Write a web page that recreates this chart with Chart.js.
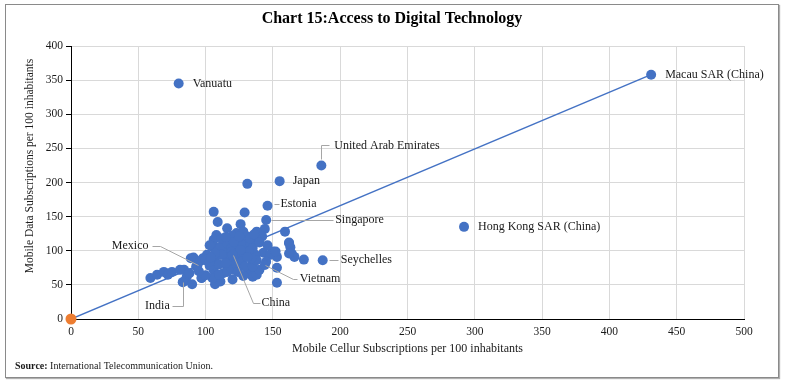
<!DOCTYPE html>
<html>
<head>
<meta charset="utf-8">
<script src="https://cdn.jsdelivr.net/npm/chart.js@4.4.1/dist/chart.umd.min.js"></script>
<style>
  html, body { margin: 0; padding: 0; background: #ffffff; }
  #wrap { position: relative; width: 785px; height: 383px; }
  #frame { position: absolute; left: 5px; top: 4px; width: 774px; height: 374px; border: 1.5px solid #8a8a8a; box-sizing: border-box; pointer-events: none; box-shadow: 1px 1px 1px #b0b0b0; }
  canvas { position: absolute; left: 0; top: 0; }
</style>
</head>
<body>
<div id="wrap">
  <canvas id="c" width="785" height="383"></canvas>
  <div id="frame"></div>
</div>
<script>
// ---- Data ----
// Labelled economies
const labelNames = ["Vanuatu", "Macau SAR (China)", "Hong Kong SAR (China)", "United Arab Emirates", "Japan", "Estonia", "Singapore", "Seychelles", "Vietnam", "China", "Mexico", "India"];
const labelCellular = [80, 431, 292, 186, 155, 146, 145, 187, 144, 120, 94, 83];
const labelMobileData = [345, 358, 135, 225, 202, 166, 145, 86, 79, 94, 79, 54];

// Other economies (unlabelled)
const otherCellular = [131,106,129,109,126,116,144,159,108,106,123,128,131,126,138,142,138,162,163,164,166,173,143,150,153,148,153,153,137,133,136,132,91,59,64,69,72,75,84,86,84,90,97,101,98,96,106,107,111,108,113,116,121,122,126,128,131,127,118,113,108,105,111,116,107,103,103,111,116,119,123,128,133,135,132,127,122,117,112,107,100,103,89,93,88,97,105,110,116,118,123,127,129,135,138,140,135,138,134,131,145,152,162,162,81,112,120,133,136,121,115,125,140,146,110,115,124,128,120,100,95,104,126,119];
const otherMobileData = [198,157,156,142,139,133,132,128,123,116,126,128,121,116,128,121,117,112,105,96,91,87,97,99,91,94,75,53,94,77,72,67,90,60,65,69,65,69,72,62,55,51,60,94,89,85,72,51,55,62,67,77,72,84,86,94,104,109,104,101,104,106,94,89,85,78,108,106,111,104,106,108,111,104,99,96,96,91,94,96,86,84,89,77,67,60,60,65,69,77,79,84,77,62,65,72,77,86,89,91,84,99,111,96,72,118,122,118,124,113,120,121,112,108,80,82,69,63,58,64,70,90,101,98];

// Reference line from origin
const lineCellular = [0, 431];
const lineMobileData = [0, 358];

// Origin marker
const originCellular = [0];
const originMobileData = [0];

// Axis ticks
const xTickMin = 0, xTickMax = 500, xTickStep = 50;
const yTickMin = 0, yTickMax = 400, yTickStep = 50;

const titleText = "Chart 15:Access to Digital Technology";
const xTitle = "Mobile Cellur Subscriptions per 100 inhabitants";
const yTitle = "Mobile Data Subscriptions per 100 inhabitants";
const sourceLabel = "Source:";
const sourceText = " International Telecommunication Union.";

// ---- Build datasets ----
const toPts = (xs, ys) => xs.map((x, i) => ({ x: x, y: ys[i] }));
const allPoints = toPts(otherCellular, otherMobileData).concat(toPts(labelCellular, labelMobileData));

// Label styling (pixel offsets from each labelled point: leader path then text anchor)
const labelStyle = {
  "Vanuatu": { leader: null, tx: 14, ty: 0, align: "left" },
  "Macau SAR (China)": { leader: null, tx: 14, ty: 0, align: "left" },
  "Hong Kong SAR (China)": { leader: null, tx: 14, ty: 0, align: "left" },
  "United Arab Emirates": { leader: [[0, -6], [0, -20], [8, -20]], tx: 13, ty: -20, align: "left" },
  "Japan": { leader: null, tx: 13, ty: 0, align: "left" },
  "Estonia": { leader: [[6, -2], [11, -2]], tx: 13, ty: -2, align: "left" },
  "Singapore": { leader: [[5, 0], [67, 0]], tx: 69, ty: 0, align: "left" },
  "Seychelles": { leader: [[6, 0], [15, 0]], tx: 18, ty: 0, align: "left" },
  "Vietnam": { leader: [[0, 0], [28, 14], [32, 14]], tx: 35, ty: 14, align: "left" },
  "China": { leader: [[0, 0], [20, 48], [27, 48]], tx: 29, ty: 48, align: "left" },
  "Mexico": { leader: [[0, 0], [-38, -19], [-46, -19]], tx: -49, ty: -19, align: "right" },
  "India": { leader: [[0, 0], [0, 24], [-11, 24]], tx: -13, ty: 24, align: "right" }
};

const SERIF = "'Liberation Serif', 'DejaVu Serif', serif";

const decorPlugin = {
  id: 'decor',
  afterDatasetsDraw(chart) {
    const ctx = chart.ctx;
    const xs = chart.scales.x, ys = chart.scales.y;
    ctx.save();
    ctx.strokeStyle = '#a6a6a6';
    ctx.lineWidth = 1;
    labelNames.forEach((n, i) => {
      const st = labelStyle[n];
      if (!st.leader) return;
      const px = xs.getPixelForValue(labelCellular[i]);
      const py = ys.getPixelForValue(labelMobileData[i]);
      ctx.beginPath();
      st.leader.forEach((p, k) => {
        const X = Math.round(px + p[0]) + 0.5, Y = Math.round(py + p[1]) + 0.5;
        if (k === 0) ctx.moveTo(X, Y); else ctx.lineTo(X, Y);
      });
      ctx.stroke();
    });
    ctx.fillStyle = '#1a1a1a';
    ctx.font = "12px " + SERIF;
    ctx.textBaseline = 'middle';
    labelNames.forEach((n, i) => {
      const st = labelStyle[n];
      const px = xs.getPixelForValue(labelCellular[i]);
      const py = ys.getPixelForValue(labelMobileData[i]);
      ctx.textAlign = st.align;
      ctx.fillText(n, px + st.tx, py + st.ty);
    });
    ctx.restore();
  },
  afterDraw(chart) {
    const ctx = chart.ctx;
    const a = chart.chartArea;
    ctx.save();
    ctx.fillStyle = '#000000';
    ctx.font = "bold 16px " + SERIF;
    ctx.textAlign = 'center';
    ctx.textBaseline = 'middle';
    ctx.fillText(titleText, 392, 19);
    ctx.fillStyle = '#1a1a1a';
    ctx.font = "12px " + SERIF;
    ctx.fillText(xTitle, (a.left + a.right) / 2, 349);
    ctx.save();
    ctx.translate(30, 166);
    ctx.rotate(-Math.PI / 2);
    ctx.font = "11.5px " + SERIF;
    ctx.fillText(yTitle, 0, 0);
    ctx.restore();
    ctx.textAlign = 'left';
    ctx.font = "bold 10px " + SERIF;
    ctx.fillText(sourceLabel, 15, 366);
    const w = ctx.measureText(sourceLabel).width;
    ctx.font = "10px " + SERIF;
    ctx.fillText(sourceText, 15 + w, 366);
    ctx.restore();
  }
};

new Chart(document.getElementById('c'), {
  type: 'scatter',
  data: {
    datasets: [
      {
        label: 'origin',
        data: toPts(originCellular, originMobileData),
        backgroundColor: '#ED7D31',
        borderColor: '#ED7D31',
        pointRadius: 5.5,
        borderWidth: 0,
        clip: false,
        order: 0
      },
      {
        label: 'economies',
        data: allPoints,
        backgroundColor: '#4472C4',
        borderColor: '#4472C4',
        pointRadius: 5,
        borderWidth: 0,
        clip: false,
        order: 1
      },
      {
        type: 'line',
        label: 'line',
        data: toPts(lineCellular, lineMobileData),
        borderColor: '#4472C4',
        borderWidth: 1.5,
        pointRadius: 0,
        fill: false,
        order: 2
      }
    ]
  },
  options: {
    responsive: false,
    animation: false,
    events: [],
    layout: { padding: { top: 46, right: 41, left: 0, bottom: 0 } },
    plugins: { legend: { display: false }, tooltip: { enabled: false }, title: { display: false } },
    scales: {
      x: {
        type: 'linear',
        min: xTickMin, max: xTickMax,
        afterFit(s) { s.height = 64; },
        ticks: { stepSize: xTickStep, color: '#1a1a1a', font: { family: SERIF, size: 11.5 }, padding: 6 },
        grid: { color: '#d9d9d9', drawTicks: false },
        border: { display: true, color: '#000000', width: 1 }
      },
      y: {
        type: 'linear',
        min: yTickMin, max: yTickMax,
        afterFit(s) { s.width = 71; },
        ticks: { stepSize: yTickStep, color: '#1a1a1a', font: { family: SERIF, size: 11.5 }, padding: 3 },
        grid: { color: '#d9d9d9', tickColor: '#000000', tickLength: 5 },
        border: { display: true, color: '#000000', width: 1 }
      }
    }
  },
  plugins: [decorPlugin]
});
</script>
</body>
</html>
